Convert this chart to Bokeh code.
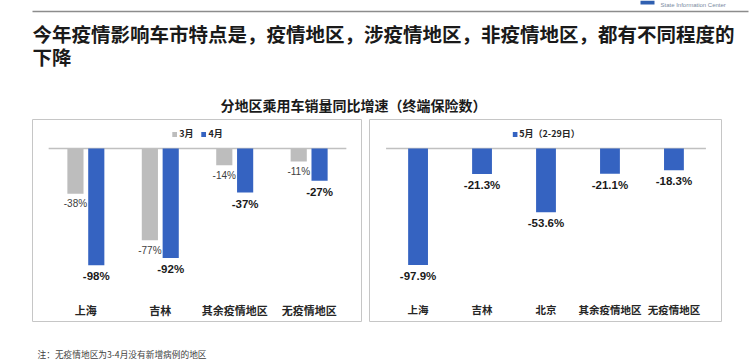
from bokeh.plotting import figure
from bokeh.models import ColumnDataSource, FactorRange, Range1d, Label, Spacer
from bokeh.transform import dodge
from bokeh.layouts import column, row
from bokeh.core.properties import value
from bokeh.embed import file_html
from bokeh.resources import INLINE

# ---------------- data ----------------
title_line1 = "今年疫情影响车市特点是，疫情地区，涉疫情地区，非疫情地区，都有不同程度的"
title_line2 = "下降"
chart_title = "分地区乘用车销量同比增速（终端保险数）"
note = "注：无疫情地区为3-4月没有新增病例的地区"
logo_text = "State Information Center"

regions_a = ["上海", "吉林", "其余疫情地区", "无疫情地区"]
mar = [-38, -77, -14, -11]
apr = [-98, -92, -37, -27]
series_a = ["3月", "4月"]

regions_b = ["上海", "吉林", "北京", "其余疫情地区", "无疫情地区"]
may = [-97.9, -21.3, -53.6, -21.1, -18.3]
series_b = "5月（2-29日）"

# ---------------- style ----------------
GRAY = "#bdbdbd"
BLUE = "#3563c1"
CJK = "Noto Sans CJK SC"
LAT = "Liberation Sans"
Y_TOP, Y_BOT = 24.4, -146.2
CAT_Y = -135.3
PANEL_H = 203
W = 752
HEAD_H = 119
FOOT_H = 41


def make_panel(width, cats, pad):
    p = figure(width=width, height=PANEL_H,
               x_range=FactorRange(*cats, range_padding=pad, range_padding_units="absolute"),
               y_range=Range1d(Y_BOT, Y_TOP),
               x_axis_location=None, y_axis_location=None,
               output_backend="svg", toolbar_location=None, min_border=0)
    p.grid.visible = False
    p.outline_line_color = "#c6c6c6"
    p.outline_line_width = 1
    p.background_fill_color = "white"
    p.border_fill_color = "white"
    zsrc = ColumnDataSource(dict(x0=[cats[0]], x1=[cats[-1]]))
    p.segment(x0=dodge("x0", -0.5, range=p.x_range), y0=0,
              x1=dodge("x1", 0.5, range=p.x_range), y1=0,
              source=zsrc, line_color="#c0c0c0", line_width=1.5)
    return p


def style_legend(p):
    lg = p.legend[0]
    lg.location = "top_center"
    lg.orientation = "horizontal"
    lg.glyph_width = 6
    lg.glyph_height = 6
    lg.label_height = 10
    lg.label_width = 10
    lg.label_text_font = CJK
    lg.label_text_font_size = "9px"
    lg.label_text_font_style = "bold"
    lg.label_text_color = "#262626"
    lg.label_standoff = 2
    lg.spacing = 7
    lg.padding = 0
    lg.margin = 8
    lg.border_line_color = None
    lg.background_fill_alpha = 0


# ---------------- left panel ----------------
src_a = ColumnDataSource(dict(
    cat=regions_a, mar=mar, apr=apr,
    lmar=[f"{v:.0f}%" for v in mar],
    lapr=[f"{v:.0f}%" for v in apr],
))
left = make_panel(330, regions_a, 0.217)
left.vbar(x=dodge("cat", -0.14, range=left.x_range), top="mar", width=0.217,
          source=src_a, fill_color=GRAY, line_color=None, legend_label=series_a[0])
left.vbar(x=dodge("cat", 0.14, range=left.x_range), top="apr", width=0.217,
          source=src_a, fill_color=BLUE, line_color=None, legend_label=series_a[1])
left.text(x=dodge("cat", -0.14, range=left.x_range), y="mar", text="lmar", source=src_a,
          y_offset=10, text_align="center", text_baseline="middle",
          text_font=value(LAT), text_font_size="10px", text_color="#404040")
left.text(x=dodge("cat", 0.14, range=left.x_range), y="apr", text="lapr", source=src_a,
          y_offset=11, text_align="center", text_baseline="middle",
          text_font=value(LAT), text_font_size="11.5px", text_font_style="bold",
          text_color="#1a1a1a")
left.text(x="cat", y=CAT_Y, text="cat", source=src_a,
          text_align="center", text_baseline="middle",
          text_font=value(CJK), text_font_size="11px", text_font_style="bold",
          text_color="#262626")
style_legend(left)

# ---------------- right panel ----------------
src_b = ColumnDataSource(dict(
    cat=regions_b, may=may,
    lmay=[f"{v:.1f}%" for v in may],
))
right = make_panel(353, regions_b, 0.259)
right.vbar(x="cat", top="may", width=0.31, source=src_b,
           fill_color=BLUE, line_color=None, legend_label=series_b)
right.text(x="cat", y="may", text="lmay", source=src_b,
           y_offset=11, text_align="center", text_baseline="middle",
           text_font=value(LAT), text_font_size="11.5px", text_font_style="bold",
           text_color="#1a1a1a")
right.text(x="cat", y=CAT_Y, text="cat", source=src_b,
           text_align="center", text_baseline="middle",
           text_font=value(CJK), text_font_size="10.5px", text_font_style="bold",
           text_color="#262626")
style_legend(right)

# ---------------- header ----------------
head = figure(width=W, height=HEAD_H, x_range=Range1d(0, W), y_range=Range1d(HEAD_H, 0),
              x_axis_location=None, y_axis_location=None, min_border=0,
              output_backend="svg", toolbar_location=None)
head.grid.visible = False
head.outline_line_color = None
head.segment(x0=32, y0=11, x1=748, y1=11, line_color="#8c8c8c", line_width=1.5)
head.quad(left=640, right=654, top=0, bottom=4, fill_color="#2f5fb0", line_color=None)
head.add_layout(Label(x=660, y=4, text=logo_text, text_font=LAT, text_font_size="6px",
                      text_color="#7a8aa0", text_baseline="middle"))
head.add_layout(Label(x=32, y=33, text=title_line1, text_font=CJK, text_font_size="19.5px",
                      text_font_style="bold", text_color="#1a1a1a", text_baseline="middle"))
head.add_layout(Label(x=32, y=56, text=title_line2, text_font=CJK, text_font_size="19.5px",
                      text_font_style="bold", text_color="#1a1a1a", text_baseline="middle"))
head.add_layout(Label(x=353, y=104, text=chart_title, text_font=CJK, text_font_size="14px",
                      text_font_style="bold", text_color="#1a1a1a", text_baseline="middle",
                      text_align="center"))

# ---------------- footer ----------------
foot = figure(width=W, height=FOOT_H, x_range=Range1d(0, W), y_range=Range1d(FOOT_H, 0),
              x_axis_location=None, y_axis_location=None, min_border=0,
              output_backend="svg", toolbar_location=None)
foot.grid.visible = False
foot.outline_line_color = None
foot.add_layout(Label(x=37, y=32, text=note, text_font=CJK, text_font_size="8.7px",
                      text_color="#404040", text_baseline="middle"))

layout = column(head,
                row(Spacer(width=32, height=PANEL_H), left,
                    Spacer(width=7, height=PANEL_H), right),
                foot)

open("out.html", "w").write(file_html(layout, INLINE))
